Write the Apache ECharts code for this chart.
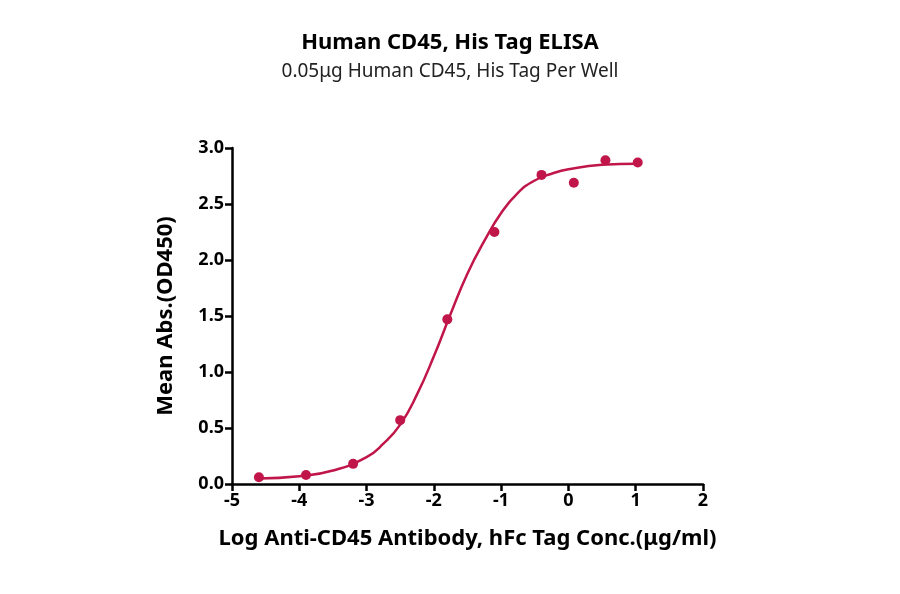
<!DOCTYPE html>
<html lang="en">
<head>
<meta charset="UTF-8">
<title>Human CD45 ELISA</title>
<style>
  html, body { margin: 0; padding: 0; background: #fff; }
  #chart { width: 900px; height: 594px; }
</style>
<script src="https://cdn.jsdelivr.net/npm/echarts@6/dist/echarts.min.js"></script>
</head>
<body>
<div id="chart"></div>
<script>
// measured points
var logConc = [-4.6, -3.9, -3.2, -2.5, -1.8, -1.1, -0.4, 0.08, 0.55, 1.03];
var meanAbs = [0.06, 0.08, 0.18, 0.57, 1.47, 2.25, 2.76, 2.69, 2.89, 2.87];
// fitted curve
var curveX = [-4.6, -4.0, -3.5, -3.0, -2.75, -2.5, -2.25, -2.0, -1.75, -1.5, -1.25, -1.0, -0.75, -0.5, -0.25, 0.0, 0.5, 1.03];
var curveY = [0.05, 0.07, 0.12, 0.24, 0.36, 0.53, 0.80, 1.14, 1.52, 1.88, 2.17, 2.42, 2.60, 2.71, 2.77, 2.81, 2.85, 2.86];

var red = '#c0164a';
var chart = echarts.init(document.getElementById('chart'));

var axisCommon = {
  axisLine: { show: true, onZero: false, lineStyle: { color: '#000', width: 2.5 } },
  axisTick: { show: true, inside: false, length: 7, lineStyle: { color: '#000', width: 2.5 } },
  axisLabel: { color: '#000', fontSize: 18, fontWeight: 'bold', fontFamily: 'Noto Sans' },
  splitLine: { show: false },
  nameLocation: 'middle',
  nameTextStyle: { color: '#000', fontSize: 22, fontWeight: 'bold', fontFamily: 'Noto Sans' }
};

chart.setOption({
  backgroundColor: '#fff',
  title: {
    text: 'Human CD45, His Tag ELISA',
    subtext: '0.05μg Human CD45, His Tag Per Well',
    left: 'center', top: 27, itemGap: 8,
    textStyle: { color: '#000', fontSize: 22, fontWeight: 'bold', fontFamily: 'Noto Sans' },
    subtextStyle: { color: '#222', fontSize: 19, fontFamily: 'Noto Sans' }
  },
  grid: { left: 232, right: 197, top: 148, bottom: 110 },
  xAxis: Object.assign({}, axisCommon, {
    type: 'value', min: -5, max: 2, interval: 1,
    name: 'Log Anti-CD45 Antibody, hFc Tag Conc.(μg/ml)', nameGap: 44
  }),
  yAxis: Object.assign({}, axisCommon, {
    type: 'value', min: 0, max: 3, interval: 0.5,
    name: 'Mean Abs.(OD450)', nameGap: 55,
    axisLabel: Object.assign({}, axisCommon.axisLabel, {
      formatter: function (v) { return v.toFixed(1); }
    })
  }),
  series: [
    {
      type: 'line', smooth: true, showSymbol: false, silent: true,
      lineStyle: { color: red, width: 2.5 },
      data: curveX.map(function (x, i) { return [x, curveY[i]]; })
    },
    {
      type: 'scatter', symbolSize: 10,
      itemStyle: { color: red, opacity: 1 },
      data: logConc.map(function (x, i) { return [x, meanAbs[i]]; })
    }
  ]
});
</script>
</body>
</html>
